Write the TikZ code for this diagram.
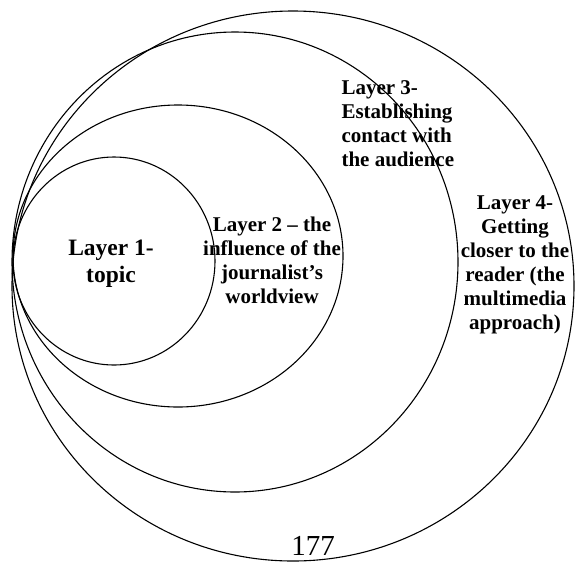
\documentclass[tikz,border=0pt]{standalone}
\usepackage{fontspec}
\setmainfont{Liberation Serif}

\begin{document}
\begin{tikzpicture}[x=1pt, y=-1pt, line width=1.1pt,
  bigtxt/.style={font=\bfseries\fontsize{23.5}{27}\selectfont, align=center, inner sep=0pt},
  layertxt/.style={font=\bfseries\fontsize{21}{24}\selectfont, inner sep=0pt}]
  \useasboundingbox (0,0) rectangle (575,563);

  % 圈层
  \draw (114,261) ellipse [x radius=101, y radius=104];
  \draw (178,256) ellipse [x radius=165, y radius=151];
  \draw (235,262) ellipse [x radius=223, y radius=230];
  \draw (293,286) ellipse [x radius=281, y radius=275];

  % 文字
  \node[bigtxt] (l1) at (111,264) {Layer 1-\\topic};
  \node[layertxt, align=center] (l2) at (272,260)
    {Layer 2 -- the\\influence of the\\journalist's\\worldview};
  \node[layertxt, align=left, anchor=west] (l3) at (341,124)
    {Layer 3-\\Establishing\\contact with\\the audience};
  \node[layertxt, align=center] (l4) at (515,265)
    {Layer 4-\\Getting\\closer to the\\reader (the\\multimedia\\approach)};

  % 页码
  \node[font=\fontsize{29}{30}\selectfont, anchor=base, inner sep=0pt] (pg) at (313,555) {177};
\end{tikzpicture}
\end{document}
